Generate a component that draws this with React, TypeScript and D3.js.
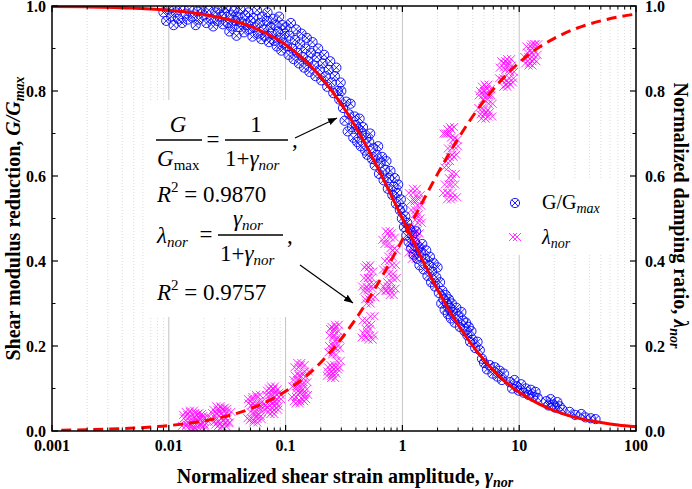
import * as d3 from "d3";

// fitted curves
const fitGamma = [0.001, 0.002, 0.005, 0.01, 0.02, 0.05, 0.1, 0.2, 0.3, 0.5, 0.7, 1, 1.5, 2, 3, 5, 7, 10, 15, 20, 30, 50, 70, 100];
const fitG = [0.999, 0.998, 0.995, 0.99, 0.98, 0.952, 0.909, 0.833, 0.769, 0.667, 0.588, 0.5, 0.4, 0.333, 0.25, 0.167, 0.125, 0.091, 0.0625, 0.048, 0.032, 0.02, 0.014, 0.0099];
const fitLGamma = [0.0012, 0.002, 0.005, 0.01, 0.02, 0.05, 0.1, 0.2, 0.3, 0.5, 0.7, 1, 1.5, 2, 3, 5, 7, 10, 15, 20, 30, 50, 70, 100];
const fitL = [0.0019, 0.003, 0.0069, 0.0128, 0.0237, 0.0524, 0.0936, 0.161, 0.217, 0.305, 0.373, 0.45, 0.541, 0.605, 0.688, 0.777, 0.825, 0.867, 0.904, 0.924, 0.946, 0.965, 0.974, 0.981];

// G/Gmax measurements [gamma_nor, G/Gmax]
const gPoints: [number, number][] = [
  [0.009, 0.985], [0.0095, 0.965], [0.01, 0.992], [0.0105, 0.975], [0.011, 0.955], [0.0115, 0.985], [0.012, 0.97], [0.0125, 0.995],
  [0.013, 0.96], [0.014, 0.982], [0.0145, 0.968], [0.015, 0.993], [0.016, 0.975], [0.017, 0.955], [0.0175, 0.987], [0.018, 0.968],
  [0.019, 0.995], [0.02, 0.978], [0.021, 0.96], [0.022, 0.99], [0.023, 0.97], [0.024, 0.952], [0.025, 0.985], [0.026, 0.965],
  [0.027, 0.994], [0.028, 0.975], [0.029, 0.957], [0.03, 0.983],
  [0.031, 0.995], [0.032, 0.96], [0.033, 0.94], [0.034, 0.978], [0.035, 0.952], [0.036, 0.988], [0.037, 0.965], [0.038, 0.93],
  [0.039, 0.975], [0.04, 0.95], [0.041, 0.992], [0.042, 0.962], [0.044, 0.938], [0.045, 0.978], [0.046, 0.955], [0.048, 0.985],
  [0.049, 0.945], [0.05, 0.965], [0.052, 0.928], [0.053, 0.972], [0.055, 0.95], [0.057, 0.99], [0.058, 0.935], [0.06, 0.96],
  [0.062, 0.922], [0.063, 0.975], [0.065, 0.945], [0.067, 0.93], [0.069, 0.965], [0.07, 0.985], [0.072, 0.915], [0.074, 0.95],
  [0.076, 0.935], [0.078, 0.97], [0.08, 0.918], [0.082, 0.955], [0.084, 0.905], [0.086, 0.94], [0.088, 0.975], [0.09, 0.925],
  [0.092, 0.895], [0.094, 0.955], [0.096, 0.912], [0.098, 0.935],
  [0.1, 0.95], [0.103, 0.905], [0.106, 0.885], [0.108, 0.93], [0.111, 0.96], [0.114, 0.9], [0.117, 0.875], [0.12, 0.92],
  [0.123, 0.945], [0.126, 0.89], [0.13, 0.865], [0.133, 0.91], [0.137, 0.935], [0.14, 0.88], [0.144, 0.855], [0.148, 0.9],
  [0.152, 0.925], [0.156, 0.87], [0.16, 0.845], [0.165, 0.89], [0.17, 0.915], [0.175, 0.86], [0.18, 0.835], [0.185, 0.88],
  [0.19, 0.9], [0.196, 0.85], [0.202, 0.825], [0.208, 0.865], [0.214, 0.885], [0.22, 0.835], [0.227, 0.81], [0.234, 0.85],
  [0.241, 0.87], [0.248, 0.82], [0.256, 0.795], [0.264, 0.835], [0.272, 0.855], [0.28, 0.8], [0.288, 0.78], [0.296, 0.82],
  [0.3, 0.8], [0.31, 0.76], [0.32, 0.73], [0.33, 0.775], [0.34, 0.705], [0.35, 0.745], [0.36, 0.77], [0.37, 0.715],
  [0.38, 0.69], [0.39, 0.74], [0.4, 0.72], [0.41, 0.68], [0.42, 0.71], [0.43, 0.735], [0.44, 0.67], [0.45, 0.7],
  [0.46, 0.715], [0.48, 0.66], [0.49, 0.69], [0.5, 0.65], [0.52, 0.68], [0.53, 0.7], [0.55, 0.64], [0.56, 0.665],
  [0.58, 0.625], [0.6, 0.65], [0.62, 0.67], [0.63, 0.605], [0.65, 0.63], [0.67, 0.645], [0.69, 0.59], [0.71, 0.615],
  [0.73, 0.635], [0.75, 0.57], [0.77, 0.595], [0.79, 0.612], [0.82, 0.555], [0.84, 0.575], [0.86, 0.595], [0.88, 0.535],
  [0.9, 0.56], [0.92, 0.58], [0.95, 0.52], [0.97, 0.545], [0.99, 0.5],
  [1.0, 0.525], [1.03, 0.48], [1.06, 0.505], [1.08, 0.46], [1.1, 0.49], [1.13, 0.445], [1.16, 0.475], [1.19, 0.43],
  [1.22, 0.46], [1.25, 0.415], [1.28, 0.445], [1.31, 0.47], [1.34, 0.405], [1.37, 0.43], [1.4, 0.39], [1.44, 0.42],
  [1.48, 0.44], [1.52, 0.38], [1.56, 0.405], [1.6, 0.425], [1.64, 0.365], [1.68, 0.39], [1.72, 0.41], [1.76, 0.35],
  [1.8, 0.375], [1.85, 0.395], [1.9, 0.34], [1.95, 0.362], [2.0, 0.385],
  [2.05, 0.325], [2.1, 0.35], [2.15, 0.3], [2.2, 0.33], [2.25, 0.31], [2.3, 0.285], [2.35, 0.32], [2.4, 0.3],
  [2.45, 0.275], [2.5, 0.31], [2.55, 0.29], [2.6, 0.265], [2.65, 0.3], [2.7, 0.28], [2.8, 0.255], [2.9, 0.29],
  [3.0, 0.27], [3.1, 0.245], [3.2, 0.28], [3.3, 0.26], [3.4, 0.235], [3.5, 0.255], [3.6, 0.225], [3.7, 0.245],
  [3.8, 0.21], [3.9, 0.235], [4.0, 0.215], [4.2, 0.195], [4.4, 0.21], [4.6, 0.19], [4.8, 0.17],
  [5.0, 0.16], [5.3, 0.145], [5.6, 0.155], [5.9, 0.135], [6.2, 0.15], [6.5, 0.128], [6.8, 0.142], [7.1, 0.12],
  [7.4, 0.135], [8.3, 0.115], [8.7, 0.1], [9.1, 0.12], [9.5, 0.105], [9.9, 0.095], [10.4, 0.11], [10.9, 0.09],
  [11.4, 0.1], [12.0, 0.085], [12.6, 0.097], [13.2, 0.08], [13.8, 0.092], [14.4, 0.078],
  [17.0, 0.07], [17.8, 0.06], [18.6, 0.075], [19.4, 0.062], [20.3, 0.055], [21.2, 0.068], [22.2, 0.058], [23.5, 0.05],
  [27.0, 0.045], [30.0, 0.038], [34.0, 0.04], [37.0, 0.032], [41.0, 0.03], [45.0, 0.028],
];

// normalized damping measurements [gamma_nor, lambda_nor]
const lPoints: [number, number][] = [
  [0.0135, 0.012], [0.014, 0.03], [0.0145, 0.045], [0.015, 0.02], [0.0155, 0.005], [0.016, 0.035], [0.0165, 0.025],
  [0.017, 0.01], [0.0175, 0.042], [0.018, 0.018], [0.019, 0.03], [0.02, 0.008], [0.021, 0.022],
  [0.0138, 0.038], [0.0148, 0.015], [0.0158, 0.048], [0.0168, 0.003], [0.0178, 0.028], [0.0185, 0.04], [0.0195, 0.015], [0.0205, 0.035],
  [0.024, 0.03], [0.025, 0.05], [0.026, 0.015], [0.027, 0.04], [0.028, 0.025], [0.029, 0.055], [0.03, 0.01],
  [0.031, 0.035], [0.032, 0.02], [0.033, 0.045],
  [0.0245, 0.042], [0.0255, 0.022], [0.0265, 0.058], [0.0275, 0.012], [0.0285, 0.048], [0.0295, 0.03], [0.0305, 0.052], [0.0315, 0.018],
  [0.049, 0.03], [0.05, 0.065], [0.052, 0.045], [0.054, 0.08], [0.055, 0.02], [0.057, 0.055], [0.059, 0.035],
  [0.061, 0.07], [0.063, 0.05],
  [0.0495, 0.075], [0.051, 0.025], [0.053, 0.06], [0.056, 0.04], [0.058, 0.085], [0.06, 0.028], [0.062, 0.062],
  [0.07, 0.06], [0.072, 0.095], [0.074, 0.045], [0.076, 0.08], [0.078, 0.105], [0.08, 0.065], [0.083, 0.05],
  [0.085, 0.09], [0.088, 0.075],
  [0.071, 0.085], [0.073, 0.055], [0.075, 0.1], [0.077, 0.04], [0.079, 0.07], [0.082, 0.098], [0.084, 0.058], [0.087, 0.085],
  [0.118, 0.08], [0.121, 0.12], [0.124, 0.15], [0.127, 0.065], [0.13, 0.1], [0.133, 0.135], [0.137, 0.09],
  [0.14, 0.155], [0.144, 0.075], [0.148, 0.115], [0.152, 0.14],
  [0.119, 0.105], [0.122, 0.07], [0.125, 0.13], [0.128, 0.09], [0.131, 0.16], [0.135, 0.11], [0.139, 0.07], [0.142, 0.128],
  [0.146, 0.098], [0.15, 0.085],
  [0.235, 0.13], [0.24, 0.15], [0.245, 0.2], [0.25, 0.24], [0.255, 0.125], [0.26, 0.18], [0.265, 0.22],
  [0.27, 0.145], [0.275, 0.25], [0.28, 0.195], [0.285, 0.165],
  [0.237, 0.14], [0.242, 0.185], [0.247, 0.225], [0.252, 0.155], [0.257, 0.245], [0.262, 0.135], [0.267, 0.205],
  [0.272, 0.235], [0.278, 0.15], [0.283, 0.215],
  [0.465, 0.22], [0.475, 0.26], [0.485, 0.33], [0.495, 0.385], [0.505, 0.24], [0.515, 0.3], [0.525, 0.36],
  [0.535, 0.215], [0.545, 0.345], [0.555, 0.27],
  [0.47, 0.34], [0.48, 0.23], [0.49, 0.36], [0.5, 0.31], [0.51, 0.39], [0.52, 0.25], [0.53, 0.335], [0.54, 0.375],
  [0.55, 0.225], [0.56, 0.315],
  [0.69, 0.33], [0.71, 0.38], [0.73, 0.44], [0.75, 0.47], [0.77, 0.35], [0.79, 0.41], [0.81, 0.32],
  [0.83, 0.455], [0.85, 0.39], [0.86, 0.425],
  [0.7, 0.45], [0.72, 0.34], [0.74, 0.4], [0.76, 0.33], [0.78, 0.465], [0.8, 0.37], [0.82, 0.43], [0.84, 0.335], [0.86, 0.36],
  [1.17, 0.42], [1.2, 0.48], [1.22, 0.54], [1.25, 0.405], [1.28, 0.57], [1.3, 0.45], [1.33, 0.51],
  [1.36, 0.435], [1.38, 0.555], [1.41, 0.49],
  [1.18, 0.56], [1.21, 0.44], [1.24, 0.52], [1.27, 0.47], [1.29, 0.415], [1.32, 0.545], [1.35, 0.465], [1.37, 0.5],
  [1.4, 0.53], [1.42, 0.43],
  [2.32, 0.56], [2.38, 0.62], [2.44, 0.7], [2.5, 0.545], [2.55, 0.665], [2.6, 0.595], [2.66, 0.715],
  [2.72, 0.58], [2.78, 0.65], [2.85, 0.685],
  [2.34, 0.7], [2.4, 0.58], [2.46, 0.635], [2.52, 0.71], [2.58, 0.56], [2.64, 0.645], [2.7, 0.69], [2.76, 0.605],
  [2.82, 0.55], [2.88, 0.67],
  [4.65, 0.76], [4.8, 0.8], [4.95, 0.735], [5.1, 0.78], [5.25, 0.815], [5.4, 0.75], [5.55, 0.79], [5.7, 0.77],
  [4.7, 0.79], [4.85, 0.745], [5.0, 0.81], [5.15, 0.755], [5.3, 0.79], [5.5, 0.805], [5.65, 0.74],
  [7.0, 0.83], [7.3, 0.87], [7.6, 0.81], [7.9, 0.85], [8.2, 0.875], [8.5, 0.82], [8.7, 0.845],
  [7.1, 0.855], [7.45, 0.825], [7.75, 0.865], [8.05, 0.815], [8.35, 0.86], [8.6, 0.83],
  [11.5, 0.88], [12.0, 0.905], [12.5, 0.86], [13.0, 0.895], [13.5, 0.87], [14.0, 0.91],
  [11.7, 0.865], [12.2, 0.89], [12.8, 0.875], [13.3, 0.91], [13.8, 0.885],
];

const xMajor = [0.001, 0.01, 0.1, 1, 10, 100];
const xLabels = ["0.001", "0.01", "0.1", "1", "10", "100"];
const yMajor = [0, 0.2, 0.4, 0.6, 0.8, 1.0];
const yMinor = [0.1, 0.3, 0.5, 0.7, 0.9];

const W = 692;
const H = 489;
const L = 52, R = 636, T = 6, B = 431;
const SERIF = "'Liberation Serif', 'Times New Roman', serif";
const BLUE = "#0000ff";
const MAGENTA = "#ff00ff";
const RED = "#ff0000";

const x = d3.scaleLog().domain([0.001, 100]).range([L, R]);
const y = d3.scaleLinear().domain([0, 1]).range([B, T]);

const xMinor: number[] = [];
for (let e = -3; e < 2; e++) {
  for (let m = 2; m <= 9; m++) xMinor.push(m * Math.pow(10, e));
}

function BlueMark({ cx, cy }: { cx: number; cy: number }) {
  const r = 4.6;
  const k = r * 0.72;
  return (
    <g transform={`translate(${cx},${cy})`} stroke={BLUE} strokeWidth={0.9} fill="none">
      <circle r={r} />
      <line x1={-k} y1={-k} x2={k} y2={k} />
      <line x1={-k} y1={k} x2={k} y2={-k} />
    </g>
  );
}

function PinkMark({ cx, cy }: { cx: number; cy: number }) {
  const k = 4;
  return (
    <g transform={`translate(${cx},${cy})`} stroke={MAGENTA} strokeWidth={0.8} fill="none">
      <line x1={-k - 2} y1={-k} x2={k - 2} y2={k} />
      <line x1={-k - 2} y1={k} x2={k - 2} y2={-k} />
      <line x1={-k + 2} y1={-k} x2={k + 2} y2={k} />
      <line x1={-k + 2} y1={k} x2={k + 2} y2={-k} />
    </g>
  );
}

export default function App() {
  const lineG = d3
    .line<number>()
    .x((d) => x(d))
    .y((_, i) => y(fitG[i]))
    .curve(d3.curveMonotoneX);
  const lineL = d3
    .line<number>()
    .x((d) => x(d))
    .y((_, i) => y(fitL[i]))
    .curve(d3.curveMonotoneX);

  return (
    <svg
      width={W}
      height={H}
      style={{ position: "absolute", left: 0, top: 0, background: "#fff", fontFamily: SERIF }}
    >
      <defs>
        <clipPath id="plot">
          <rect x={L} y={T} width={R - L} height={B - T} />
        </clipPath>
        <marker id="arr" viewBox="0 0 10 10" refX={10} refY={5} markerWidth={9} markerHeight={9} orient="auto" markerUnits="userSpaceOnUse">
          <path d="M0,1 L10,5 L0,9 Z" fill="#000" />
        </marker>
      </defs>

      {/* grid */}
      {xMinor.map((v) => (
        <line key={"mg" + v} x1={x(v)} x2={x(v)} y1={T} y2={B} stroke="#d4d4d4" strokeWidth={0.8} strokeDasharray="1,2" />
      ))}
      {xMajor.slice(1, -1).map((v) => (
        <line key={"Mg" + v} x1={x(v)} x2={x(v)} y1={T} y2={B} stroke="#c4c4c4" strokeWidth={1} />
      ))}

      {/* white boxes behind annotation and legend */}
      <rect x={144} y={100} width={170} height={217} fill="#fff" />
      <rect x={490} y={180} width={125} height={75} fill="#fff" />

      <g clipPath="url(#plot)">
        {lPoints.map(([g, l], i) => (
          <PinkMark key={"l" + i} cx={x(g)} cy={y(l)} />
        ))}
        {gPoints.map(([g, v], i) => (
          <BlueMark key={"g" + i} cx={x(g)} cy={y(v)} />
        ))}
        <path d={lineL(fitLGamma) ?? ""} fill="none" stroke={RED} strokeWidth={3} strokeDasharray="10,6" />
        <path d={lineG(fitGamma) ?? ""} fill="none" stroke={RED} strokeWidth={3} />
      </g>

      {/* frame */}
      <rect x={L} y={T} width={R - L} height={B - T} fill="none" stroke="#000" strokeWidth={1.5} />

      {/* x ticks */}
      {xMajor.map((v) => (
        <g key={"xt" + v}>
          <line x1={x(v)} x2={x(v)} y1={B} y2={B - 6} stroke="#000" strokeWidth={1.2} />
          <line x1={x(v)} x2={x(v)} y1={T} y2={T + 6} stroke="#000" strokeWidth={1.2} />
        </g>
      ))}
      {xMinor.map((v) => (
        <g key={"xm" + v}>
          <line x1={x(v)} x2={x(v)} y1={B} y2={B - 3.5} stroke="#000" strokeWidth={1} />
          <line x1={x(v)} x2={x(v)} y1={T} y2={T + 3.5} stroke="#000" strokeWidth={1} />
        </g>
      ))}
      {xMajor.map((v, i) => (
        <text key={"xl" + v} x={x(v)} y={451} textAnchor="middle" fontSize={16} fontWeight="bold">
          {xLabels[i]}
        </text>
      ))}

      {/* y ticks both sides */}
      {yMajor.map((v) => (
        <g key={"yt" + v}>
          <line x1={L} x2={L + 6} y1={y(v)} y2={y(v)} stroke="#000" strokeWidth={1.2} />
          <line x1={R} x2={R - 6} y1={y(v)} y2={y(v)} stroke="#000" strokeWidth={1.2} />
          <text x={46} y={y(v) + 5.5} textAnchor="end" fontSize={16} fontWeight="bold">
            {v.toFixed(1)}
          </text>
          <text x={645} y={y(v) + 5.5} textAnchor="start" fontSize={16} fontWeight="bold">
            {v.toFixed(1)}
          </text>
        </g>
      ))}
      {yMinor.map((v) => (
        <g key={"ym" + v}>
          <line x1={L} x2={L + 3.5} y1={y(v)} y2={y(v)} stroke="#000" strokeWidth={1} />
          <line x1={R} x2={R - 3.5} y1={y(v)} y2={y(v)} stroke="#000" strokeWidth={1} />
        </g>
      ))}

      {/* axis titles */}
      <text x={(L + R) / 2 + 1} y={483} textAnchor="middle" fontSize={20} fontWeight="bold">
        Normalized shear strain amplitude, <tspan fontStyle="italic">γ</tspan>
        <tspan fontStyle="italic" fontSize={14} dy={4}>nor</tspan>
      </text>
      <text transform={`translate(20,${(T + B) / 2}) rotate(-90)`} textAnchor="middle" fontSize={20} fontWeight="bold">
        Shear modulus reduction, <tspan fontStyle="italic">G/G</tspan>
        <tspan fontStyle="italic" fontSize={14} dy={4}>max</tspan>
      </text>
      <text transform={`translate(674,${(T + B) / 2 - 3}) rotate(90)`} textAnchor="middle" fontSize={20} fontWeight="bold">
        Normalized damping ratio, <tspan fontStyle="italic">λ</tspan>
        <tspan fontStyle="italic" fontSize={14} dy={4}>nor</tspan>
      </text>

      {/* fitted equations */}
      <g fontSize={23}>
        <text x={178} y={132} textAnchor="middle" fontStyle="italic">G</text>
        <line x1={156} x2={202} y1={140} y2={140} stroke="#000" strokeWidth={1.3} />
        <text x={157} y={166}>
          <tspan fontStyle="italic">G</tspan>
          <tspan fontSize={15} dy={4}>max</tspan>
        </text>
        <text x={213} y={147} textAnchor="middle">=</text>
        <text x={256} y={132} textAnchor="middle">1</text>
        <line x1={225} x2={288} y1={140} y2={140} stroke="#000" strokeWidth={1.3} />
        <text x={225} y={166}>
          1+<tspan fontStyle="italic">γ</tspan>
          <tspan fontStyle="italic" fontSize={15} dy={4}>nor</tspan>
        </text>
        <text x={292} y={147}>,</text>

        <text x={157} y={202}>
          <tspan fontStyle="italic">R</tspan>
          <tspan fontSize={15} dy={-10}>2</tspan>
          <tspan dy={10}> = 0.9870</tspan>
        </text>

        <text x={157} y={243}>
          <tspan fontStyle="italic">λ</tspan>
          <tspan fontStyle="italic" fontSize={15} dy={4}>nor</tspan>
        </text>
        <text x={206} y={242} textAnchor="middle">=</text>
        <text x={233} y={226}>
          <tspan fontStyle="italic">γ</tspan>
          <tspan fontStyle="italic" fontSize={15} dy={4}>nor</tspan>
        </text>
        <line x1={218} x2={283} y1={235} y2={235} stroke="#000" strokeWidth={1.3} />
        <text x={220} y={261}>
          1+<tspan fontStyle="italic">γ</tspan>
          <tspan fontStyle="italic" fontSize={15} dy={4}>nor</tspan>
        </text>
        <text x={287} y={243}>,</text>

        <text x={157} y={300}>
          <tspan fontStyle="italic">R</tspan>
          <tspan fontSize={15} dy={-10}>2</tspan>
          <tspan dy={10}> = 0.9757</tspan>
        </text>
      </g>

      {/* arrows */}
      <line x1={295} y1={138} x2={337} y2={118} stroke="#000" strokeWidth={1.2} markerEnd="url(#arr)" />
      <line x1={300} y1={265} x2={353} y2={303} stroke="#000" strokeWidth={1.2} markerEnd="url(#arr)" />

      {/* legend */}
      <BlueMark cx={515} cy={203} />
      <text x={542} y={209} fontSize={20}>
        G/G<tspan fontStyle="italic" fontSize={14} dy={4}>max</tspan>
      </text>
      <PinkMark cx={515} cy={237} />
      <text x={542} y={244} fontSize={20}>
        <tspan fontStyle="italic">λ</tspan>
        <tspan fontStyle="italic" fontSize={14} dy={4}>nor</tspan>
      </text>
    </svg>
  );
}
